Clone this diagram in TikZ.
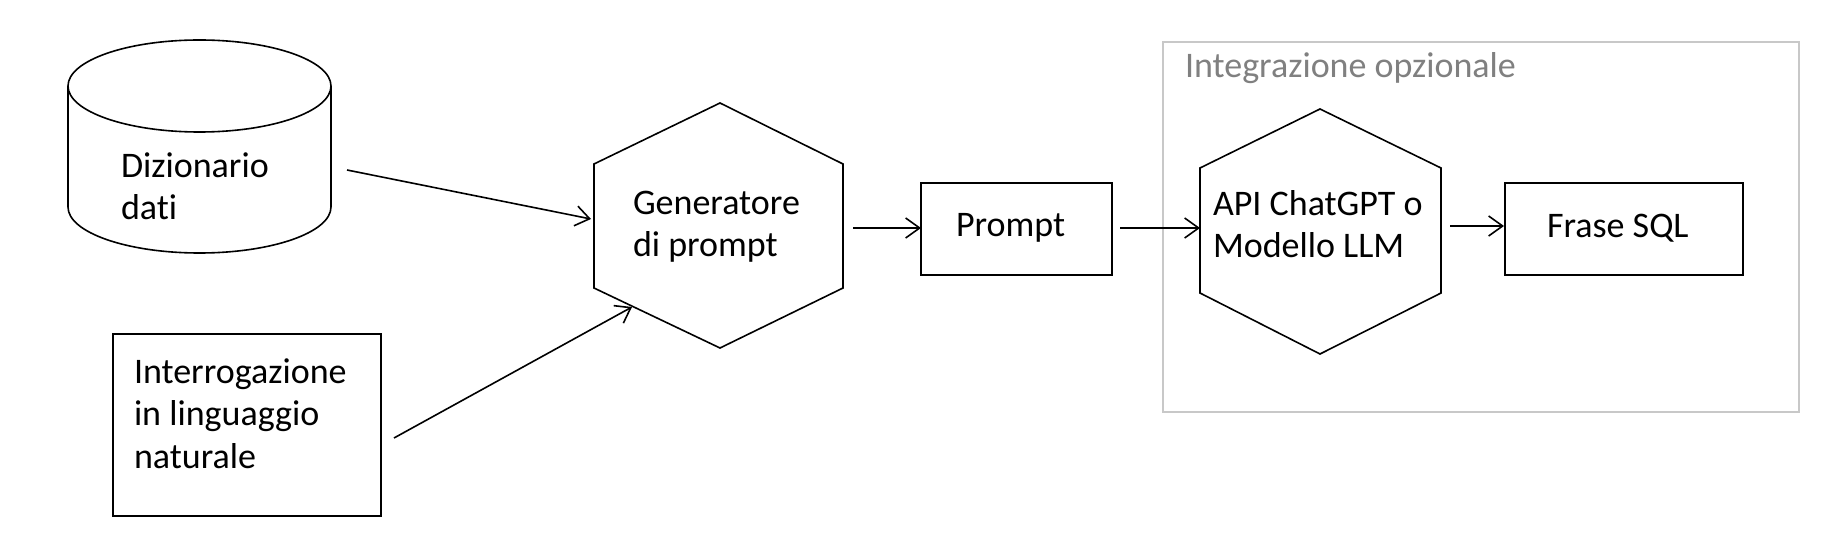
\documentclass[tikz,border=0pt]{standalone}
\usepackage{fontspec}
\setmainfont{Carlito}[Ligatures={NoCommon,NoContextual}]
\usetikzlibrary{arrows.meta}
\definecolor{framegray}{RGB}{200,200,200}
\definecolor{titlegray}{RGB}{128,128,128}
\begin{document}
\begin{tikzpicture}[x=1bp,y=-1bp,
  line/.style={line width=1.6bp, draw=black},
  arr/.style={line, -{Straight Barb[length=14bp,width=20bp,line width=1.6bp]}},
  lbl/.style={anchor=base west, inner sep=0pt, outer sep=0pt, font=\fontsize{36bp}{42.5bp}\selectfont, align=left},
  boxnode/.style={line, inner sep=0pt, outer sep=0pt, anchor=north west},
]
\useasboundingbox[fill=white] (0,0) rectangle (1836,544);

% optional-integration frame
\node[draw=framegray, line width=1.6bp, inner sep=0pt, anchor=north west,
      minimum width=636bp, minimum height=370bp] (frame) at (1162,41) {};
\node[lbl, text=titlegray] (ttitle) at (1185,78) {Integrazione opzionale};

% data dictionary (cylinder)
\draw[line] (68,86) -- (68,207) arc[start angle=180, end angle=0, x radius=131.5, y radius=46] -- (331,86);
\draw[line] (199.5,86) ellipse [x radius=131.5, y radius=46];
\node[lbl] (tdict) at (121,220) {Dizionario\\dati};

% natural-language query box
\node[boxnode, minimum width=268bp, minimum height=182bp] (query) at (113,334) {};
\node[lbl] (tquery) at (134,468) {Interrogazione\\in linguaggio\\naturale};

% prompt generator (hexagon)
\draw[line] (594,164) -- (720,103) -- (843,164) -- (843,288) -- (720,348) -- (594,288) -- cycle;
\node[lbl] (tgen) at (633,257) {Generatore\\di prompt};

% prompt box
\node[boxnode, minimum width=191bp, minimum height=92bp] (prompt) at (921,183) {};
\node[lbl] (tprompt) at (956,237) {Prompt};

% API / LLM (hexagon)
\draw[line] (1200,168) -- (1320,109) -- (1441,168) -- (1441,293) -- (1320,354) -- (1200,293) -- cycle;
\node[lbl] (tapi) at (1213,258) {API ChatGPT o\\Modello LLM};

% SQL sentence box
\node[boxnode, minimum width=238bp, minimum height=92bp] (frase) at (1505,183) {};
\node[lbl] (tfrase) at (1547,238) {Frase SQL};

% connector end points
\coordinate (a1s) at (347,170);
\coordinate (a1e) at (591,219);
\coordinate (a2s) at (394,438);
\coordinate (a2e) at (632,307);
\coordinate (a3s) at (853,228);
\coordinate (a3e) at (921,228);
\coordinate (a4s) at (1120,228);
\coordinate (a4e) at (1200,228);
\coordinate (a5s) at (1450,226);
\coordinate (a5e) at (1504,226);

\draw[arr] (a1s) -- (a1e);
\draw[arr] (a2s) -- (a2e);
\draw[arr] (a3s) -- (a3e);
\draw[arr] (a4s) -- (a4e);
\draw[arr] (a5s) -- (a5e);
\end{tikzpicture}
\end{document}
